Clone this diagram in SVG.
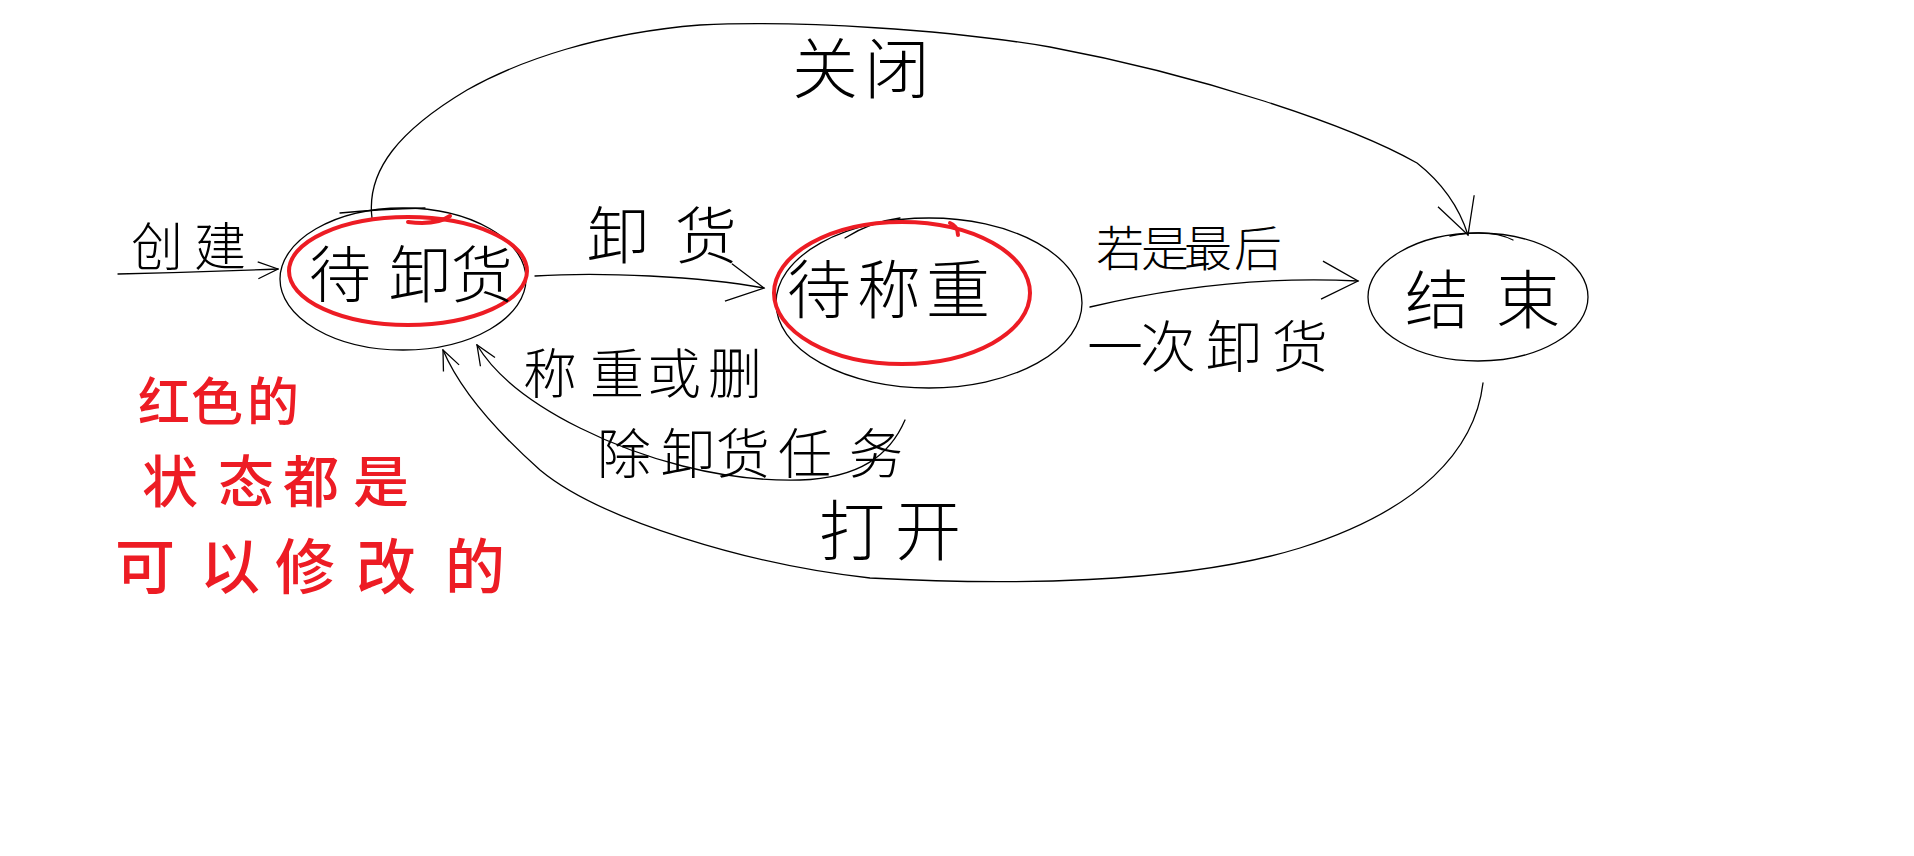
<svg xmlns="http://www.w3.org/2000/svg" width="1914" height="856" viewBox="0 0 1914 856">
<style>
.bk{fill:none;stroke:#000;stroke-width:1.3;stroke-linecap:round;stroke-linejoin:round}
.rd{fill:none;stroke:#ED1C24;stroke-width:4;stroke-linecap:round;stroke-linejoin:round}
.lb{font-family:"Noto Sans CJK SC","Noto Sans CJK JP",sans-serif;font-weight:200;fill:#000;text-anchor:middle;dominant-baseline:central}
.rt{font-family:"Noto Sans CJK SC","Noto Sans CJK JP",sans-serif;font-weight:500;fill:#ED1C24;text-anchor:middle;dominant-baseline:central}
</style>
<defs>
<marker id="arr" viewBox="0 0 24 24" refX="23" refY="12" markerWidth="24" markerHeight="24" markerUnits="userSpaceOnUse" orient="auto">
<path d="M3,4 L23,12 L3,21" fill="none" stroke="#000" stroke-width="1.3"/>
</marker>
<marker id="arrL" viewBox="0 0 44 44" refX="42" refY="22" markerWidth="44" markerHeight="44" markerUnits="userSpaceOnUse" orient="auto">
<path d="M6,4 L42,22 L6,42" fill="none" stroke="#000" stroke-width="1.3"/>
</marker>
</defs>
<rect width="1914" height="856" fill="#fff"/>

<g id="connectors">
<g id="edge-create">
<path class="bk" d="M118,274 Q200,272 278,269" marker-end="url(#arr)"/>
<text class="lb" font-size="52" x="157 220" y="243">创建</text>
</g>
<g id="edge-unload">
<path class="bk" d="M535,276 C600,272 700,276 764,288" marker-end="url(#arrL)"/>
<text class="lb" font-size="62" x="618 706" y="232">卸货</text>
</g>
<g id="edge-last">
<path class="bk" d="M1090,307 C1170,288 1260,276 1358,281" marker-end="url(#arrL)"/>
<text class="lb"><tspan font-size="48" x="1120 1165 1208 1258" y="245">若是最后</tspan><tspan font-size="56" x="1115 1168 1234 1300" y="342">一次卸货</tspan></text>
</g>
<g id="edge-close">
<path class="bk" d="M372,218 C366,170 400,130 467,90 C520,60 600,33 700,25 C800,20 950,30 1050,47 C1200,75 1350,125 1417,163 C1445,185 1460,210 1468,235" marker-end="url(#arrL)"/>
<text class="lb" font-size="66" x="825 897" y="64">关闭</text>
</g>
<g id="edge-open">
<path class="bk" d="M1483,383 C1475,450 1420,510 1300,548 C1180,585 1000,585 870,578 C750,565 600,520 540,470 C495,430 460,390 443,350" marker-end="url(#arr)"/>
<text class="lb" font-size="66" x="852 928" y="526">打开</text>
</g>
<g id="edge-weigh">
<path class="bk" d="M905,420 C890,455 860,478 800,480 C720,482 640,458 580,428 C530,403 495,375 477,345" marker-end="url(#arr)"/>
<text class="lb"><tspan font-size="54" x="550 617 674 735" y="370">称重或删</tspan><tspan font-size="54" x="624 688 743 805 876" y="450">除卸货任务</tspan></text>
</g>
</g>

<g id="node-daixiehuo">
<ellipse class="bk" cx="403" cy="279" rx="123" ry="71"/>
<path class="bk" d="M340,213 Q380,209 425,208"/>
<ellipse class="rd" cx="408" cy="271" rx="119" ry="54"/>
<path class="rd" d="M408,222 C425,224 440,223 450,216"/>
<text class="lb" font-size="62" x="340 420 482" y="271">待卸货</text>
</g>

<g id="node-daichengzhong">
<ellipse class="bk" cx="929" cy="303" rx="153" ry="85"/>
<path class="bk" d="M845,238 Q870,222 900,218"/>
<ellipse class="rd" cx="902" cy="293" rx="128" ry="71"/>
<path class="rd" d="M958,235 Q958,226 950,223"/>
<text class="lb" font-size="64" x="819 889 958" y="285">待称重</text>
</g>

<g id="node-jieshu">
<ellipse class="bk" cx="1478" cy="297" rx="110" ry="64"/>
<path class="bk" d="M1450,236 Q1490,228 1513,240"/>
<text class="lb" font-size="64" x="1437 1528" y="295">结束</text>
</g>

<g id="note">
<text class="rt"><tspan font-size="52" x="164 217 273" y="398">红色的</tspan><tspan font-size="56" x="170 246 311 381" y="477">状态都是</tspan><tspan font-size="60" x="145 230 305 386 475" y="562">可以修改的</tspan></text>
</g>
</svg>
